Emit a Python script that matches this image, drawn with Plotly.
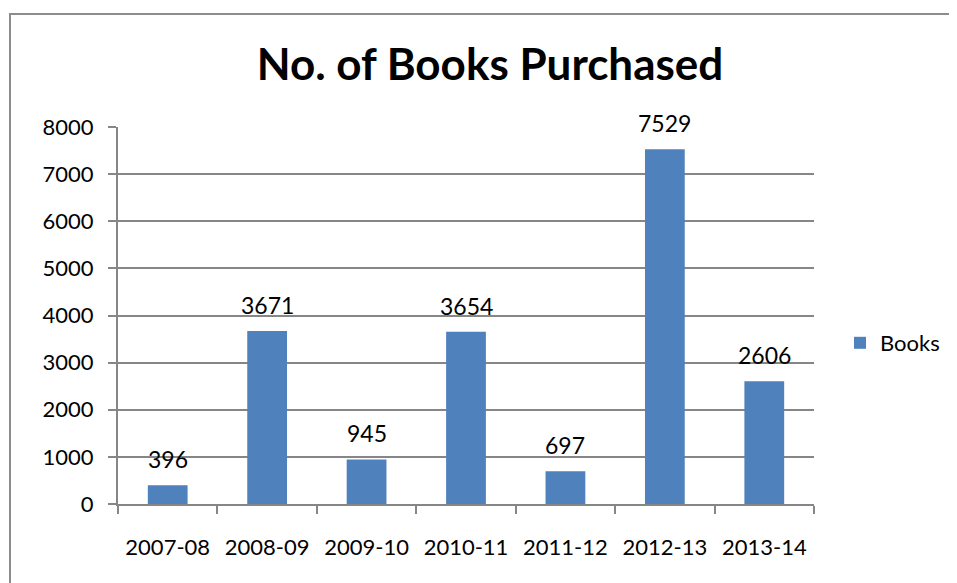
import plotly.graph_objects as go

years = ["2007-08", "2008-09", "2009-10", "2010-11", "2011-12", "2012-13", "2013-14"]
books = [396, 3671, 945, 3654, 697, 7529, 2606]
y_ticks = [0, 1000, 2000, 3000, 4000, 5000, 6000, 7000, 8000]

FONT = "Lato"
GRID = "#868686"
OFF = 8  # browser default body margin

fig = go.Figure()
fig.add_trace(go.Bar(x=years, y=books, name="Books", marker_color="#4F81BD",
                     marker_line_width=0))

for yr, v in zip(years, books):
    fig.add_annotation(x=yr, y=v, text=str(v), showarrow=False, yanchor="bottom",
                       yshift=10, font=dict(family=FONT, size=23, color="black"))

W, H = 957 - OFF, 583 - OFF
L, T = 118 - OFF, 127 - OFF
R, B = W - (814 - OFF), H - (504 - OFF)
pw, ph = W - L - R, H - T - B

def px(xs):  # screen x -> paper
    return (xs - OFF - L) / pw

def py(ys):  # screen y -> paper
    return (H - B - (ys - OFF)) / ph

fig.add_shape(type="rect", xref="paper", yref="paper",
              x0=px(10), x1=px(990), y0=py(620), y1=py(14),
              line=dict(color="#8c8c8c", width=2), fillcolor="rgba(0,0,0,0)", layer="below")

fig.update_layout(
    width=W, height=H,
    margin=dict(l=L, r=R, t=T, b=B, autoexpand=False),
    paper_bgcolor="white", plot_bgcolor="white",
    bargap=0.6,
    title=dict(text="<b>No. of Books Purchased</b>", x=(490 - OFF) / W, xanchor="center",
               y=1 - (65 - OFF) / H, yanchor="middle",
               font=dict(family=FONT, size=44, color="black")),
    showlegend=True,
    legend=dict(x=px(840), y=py(343), xanchor="left", yanchor="middle",
                font=dict(family=FONT, size=22, color="black"), bgcolor="rgba(0,0,0,0)",
                itemwidth=30),
    xaxis=dict(type="category", showline=True, linecolor=GRID, linewidth=2, ticks="outside",
               tickson="boundaries", ticklen=8, tickcolor=GRID, tickwidth=2,
               tickfont=dict(family=FONT, size=22, color="black"),
               ticklabelstandoff=23, showgrid=False, automargin=False),
    yaxis=dict(range=[0, 8000], tickvals=y_ticks, showline=True, linecolor=GRID,
               linewidth=2, ticks="outside", ticklen=8, tickcolor=GRID, tickwidth=2,
               showgrid=True, gridcolor=GRID, gridwidth=2, zeroline=False,
               tickfont=dict(family=FONT, size=22, color="black"),
               ticklabelstandoff=10, automargin=False),
)

fig.write_html("out.html")
